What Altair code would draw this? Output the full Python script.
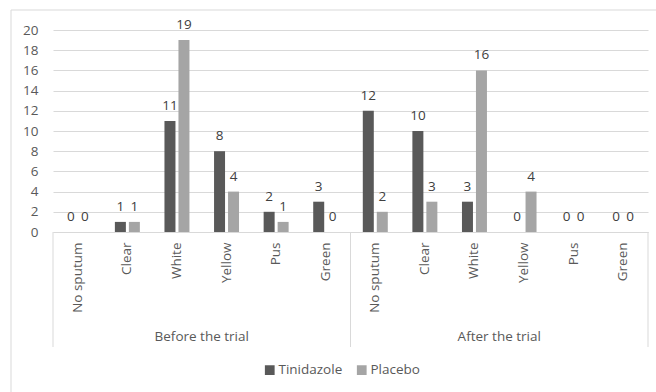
import altair as alt
import pandas as pd

phases = ["Before the trial", "After the trial"]
categories = ["No sputum", "Clear", "White", "Yellow", "Pus", "Green"]
series = ["Tinidazole", "Placebo"]
tinidazole_before = [0, 1, 11, 8, 2, 3]
placebo_before = [0, 1, 19, 4, 1, 0]
tinidazole_after = [12, 10, 3, 0, 0, 0]
placebo_after = [2, 3, 16, 4, 0, 0]
y_ticks = [0, 2, 4, 6, 8, 10, 12, 14, 16, 18, 20]
colors = ["#595959", "#a5a5a5"]

values = {
    ("Before the trial", "Tinidazole"): tinidazole_before,
    ("Before the trial", "Placebo"): placebo_before,
    ("After the trial", "Tinidazole"): tinidazole_after,
    ("After the trial", "Placebo"): placebo_after,
}

keys = [p + "|" + c for p in phases for c in categories]
rows = []
for p in phases:
    for s in series:
        for c, v in zip(categories, values[(p, s)]):
            rows.append({"key": p + "|" + c, "phase": p, "category": c, "series": s, "value": v})
df = pd.DataFrame(rows)

FONT = "Open Sans"
FS = 13.5
TXT = "#595959"
GRID = "#d9d9d9"

xscale = alt.Scale(domain=keys, paddingInner=0, paddingOuter=0)
xaxis = alt.Axis(title=None, labelAngle=-90, labelExpr="split(datum.label, '|')[1]",
                 ticks=False, domainColor=GRID, labelPadding=10, labelFontSize=FS,
                 labelColor=TXT, labelFont=FONT)


def xenc(band=0.5):
    return alt.X("key:N", sort=keys, scale=xscale, axis=xaxis, bandPosition=band)


xoff = alt.XOffset("series:N", sort=series,
                   scale=alt.Scale(domain=series, paddingInner=0.214, paddingOuter=0.879))
yaxis = alt.Axis(title=None, values=y_ticks, ticks=False, domain=False,
                 gridColor=GRID, labelPadding=15, labelFontSize=FS,
                 labelColor=TXT, labelFont=FONT, labelOverlap=False)
yscale = alt.Scale(domain=[0, 20], nice=False)


def yenc():
    return alt.Y("value:Q", scale=yscale, axis=yaxis)


bars = alt.Chart(df).mark_bar().encode(
    x=xenc(),
    xOffset=xoff,
    y=yenc(),
    color=alt.Color("series:N", sort=series,
                    scale=alt.Scale(domain=series, range=colors),
                    legend=alt.Legend(title=None, orient="none", direction="horizontal",
                                      legendX=210, legendY=333, symbolType="square",
                                      symbolSize=95, symbolStrokeWidth=0,
                                      labelFontSize=FS, labelColor=TXT, labelFont=FONT,
                                      labelOffset=2, columnPadding=12)),
)

labels = alt.Chart(df).mark_text(baseline="bottom", dy=-8, font=FONT, fontSize=FS,
                                 color="#404040").encode(
    x=xenc(),
    xOffset=xoff,
    y=yenc(),
    text=alt.Text("value:Q"),
)

group_df = pd.DataFrame({"key": [phases[0] + "|" + categories[2], phases[1] + "|" + categories[2]],
                         "phase": phases})
group_labels = alt.Chart(group_df).mark_text(baseline="middle", font=FONT, fontSize=FS,
                                             color=TXT).encode(
    x=xenc(1),
    y=alt.value(307),
    text="phase:N",
)

left_df = pd.DataFrame({"key": [phases[0] + "|" + categories[0], phases[1] + "|" + categories[0]]})
right_df = pd.DataFrame({"key": [phases[1] + "|" + categories[-1]]})
div_left = alt.Chart(left_df).mark_rule(color=GRID, strokeWidth=1).encode(
    x=xenc(0), y=alt.value(202), y2=alt.value(317))
div_right = alt.Chart(right_df).mark_rule(color=GRID, strokeWidth=1).encode(
    x=xenc(1), y=alt.value(202), y2=alt.value(317))

frame = alt.Chart(pd.DataFrame({"a": [0]})).mark_rect(fill=None, stroke=GRID, strokeWidth=1).encode(
    x=alt.value(-42), x2=alt.value(630), y=alt.value(-20), y2=alt.value(420))

chart = alt.layer(frame, bars, labels, group_labels, div_left, div_right).properties(
    width=595, height=202,
    padding={"left": 53, "top": 30, "right": 8, "bottom": 160},
    autosize="none",
    background="white",
).configure_view(stroke=None)

chart.save("out.html", embed_options={"renderer": "svg", "actions": False})
